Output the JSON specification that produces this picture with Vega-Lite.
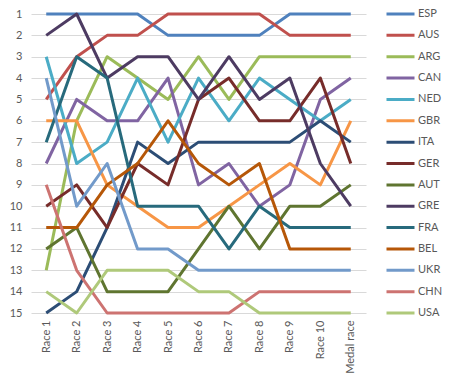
{
  "$schema": "https://vega.github.io/schema/vega-lite/v6.json",
  "autosize": {"type": "none"},
  "width": 335,
  "height": 299,
  "padding": {"left": 31, "top": 14, "right": 83, "bottom": 67},
  "background": "white",
  "config": {
    "view": {"stroke": null},
    "font": "Lato",
    "axis": {"labelFont": "Lato", "labelFontSize": 11, "labelColor": "#595959"},
    "legend": {"labelFont": "Lato", "labelFontSize": 11, "labelColor": "#595959"}
  },
  "data": {"values": [
    {"team":"ESP","race":"Race 1","rank":1},{"team":"ESP","race":"Race 2","rank":1},{"team":"ESP","race":"Race 3","rank":1},{"team":"ESP","race":"Race 4","rank":1},{"team":"ESP","race":"Race 5","rank":2},{"team":"ESP","race":"Race 6","rank":2},{"team":"ESP","race":"Race 7","rank":2},{"team":"ESP","race":"Race 8","rank":2},{"team":"ESP","race":"Race 9","rank":1},{"team":"ESP","race":"Race 10","rank":1},{"team":"ESP","race":"Medal race","rank":1},
    {"team":"AUS","race":"Race 1","rank":5},{"team":"AUS","race":"Race 2","rank":3},{"team":"AUS","race":"Race 3","rank":2},{"team":"AUS","race":"Race 4","rank":2},{"team":"AUS","race":"Race 5","rank":1},{"team":"AUS","race":"Race 6","rank":1},{"team":"AUS","race":"Race 7","rank":1},{"team":"AUS","race":"Race 8","rank":1},{"team":"AUS","race":"Race 9","rank":2},{"team":"AUS","race":"Race 10","rank":2},{"team":"AUS","race":"Medal race","rank":2},
    {"team":"ARG","race":"Race 1","rank":13},{"team":"ARG","race":"Race 2","rank":6},{"team":"ARG","race":"Race 3","rank":3},{"team":"ARG","race":"Race 4","rank":4},{"team":"ARG","race":"Race 5","rank":5},{"team":"ARG","race":"Race 6","rank":3},{"team":"ARG","race":"Race 7","rank":5},{"team":"ARG","race":"Race 8","rank":3},{"team":"ARG","race":"Race 9","rank":3},{"team":"ARG","race":"Race 10","rank":3},{"team":"ARG","race":"Medal race","rank":3},
    {"team":"CAN","race":"Race 1","rank":8},{"team":"CAN","race":"Race 2","rank":5},{"team":"CAN","race":"Race 3","rank":6},{"team":"CAN","race":"Race 4","rank":6},{"team":"CAN","race":"Race 5","rank":4},{"team":"CAN","race":"Race 6","rank":9},{"team":"CAN","race":"Race 7","rank":8},{"team":"CAN","race":"Race 8","rank":10},{"team":"CAN","race":"Race 9","rank":9},{"team":"CAN","race":"Race 10","rank":5},{"team":"CAN","race":"Medal race","rank":4},
    {"team":"NED","race":"Race 1","rank":3},{"team":"NED","race":"Race 2","rank":8},{"team":"NED","race":"Race 3","rank":7},{"team":"NED","race":"Race 4","rank":4},{"team":"NED","race":"Race 5","rank":7},{"team":"NED","race":"Race 6","rank":4},{"team":"NED","race":"Race 7","rank":6},{"team":"NED","race":"Race 8","rank":4},{"team":"NED","race":"Race 9","rank":5},{"team":"NED","race":"Race 10","rank":6},{"team":"NED","race":"Medal race","rank":5},
    {"team":"GBR","race":"Race 1","rank":6},{"team":"GBR","race":"Race 2","rank":6},{"team":"GBR","race":"Race 3","rank":9},{"team":"GBR","race":"Race 4","rank":10},{"team":"GBR","race":"Race 5","rank":11},{"team":"GBR","race":"Race 6","rank":11},{"team":"GBR","race":"Race 7","rank":10},{"team":"GBR","race":"Race 8","rank":9},{"team":"GBR","race":"Race 9","rank":8},{"team":"GBR","race":"Race 10","rank":9},{"team":"GBR","race":"Medal race","rank":6},
    {"team":"ITA","race":"Race 1","rank":15},{"team":"ITA","race":"Race 2","rank":14},{"team":"ITA","race":"Race 3","rank":11},{"team":"ITA","race":"Race 4","rank":7},{"team":"ITA","race":"Race 5","rank":8},{"team":"ITA","race":"Race 6","rank":7},{"team":"ITA","race":"Race 7","rank":7},{"team":"ITA","race":"Race 8","rank":7},{"team":"ITA","race":"Race 9","rank":7},{"team":"ITA","race":"Race 10","rank":6},{"team":"ITA","race":"Medal race","rank":7},
    {"team":"GER","race":"Race 1","rank":10},{"team":"GER","race":"Race 2","rank":9},{"team":"GER","race":"Race 3","rank":11},{"team":"GER","race":"Race 4","rank":8},{"team":"GER","race":"Race 5","rank":9},{"team":"GER","race":"Race 6","rank":5},{"team":"GER","race":"Race 7","rank":4},{"team":"GER","race":"Race 8","rank":6},{"team":"GER","race":"Race 9","rank":6},{"team":"GER","race":"Race 10","rank":4},{"team":"GER","race":"Medal race","rank":8},
    {"team":"AUT","race":"Race 1","rank":12},{"team":"AUT","race":"Race 2","rank":11},{"team":"AUT","race":"Race 3","rank":14},{"team":"AUT","race":"Race 4","rank":14},{"team":"AUT","race":"Race 5","rank":14},{"team":"AUT","race":"Race 6","rank":12},{"team":"AUT","race":"Race 7","rank":10},{"team":"AUT","race":"Race 8","rank":12},{"team":"AUT","race":"Race 9","rank":10},{"team":"AUT","race":"Race 10","rank":10},{"team":"AUT","race":"Medal race","rank":9},
    {"team":"GRE","race":"Race 1","rank":2},{"team":"GRE","race":"Race 2","rank":1},{"team":"GRE","race":"Race 3","rank":4},{"team":"GRE","race":"Race 4","rank":3},{"team":"GRE","race":"Race 5","rank":3},{"team":"GRE","race":"Race 6","rank":5},{"team":"GRE","race":"Race 7","rank":3},{"team":"GRE","race":"Race 8","rank":5},{"team":"GRE","race":"Race 9","rank":4},{"team":"GRE","race":"Race 10","rank":8},{"team":"GRE","race":"Medal race","rank":10},
    {"team":"FRA","race":"Race 1","rank":7},{"team":"FRA","race":"Race 2","rank":3},{"team":"FRA","race":"Race 3","rank":4},{"team":"FRA","race":"Race 4","rank":10},{"team":"FRA","race":"Race 5","rank":10},{"team":"FRA","race":"Race 6","rank":10},{"team":"FRA","race":"Race 7","rank":12},{"team":"FRA","race":"Race 8","rank":10},{"team":"FRA","race":"Race 9","rank":11},{"team":"FRA","race":"Race 10","rank":11},{"team":"FRA","race":"Medal race","rank":11},
    {"team":"BEL","race":"Race 1","rank":11},{"team":"BEL","race":"Race 2","rank":11},{"team":"BEL","race":"Race 3","rank":9},{"team":"BEL","race":"Race 4","rank":8},{"team":"BEL","race":"Race 5","rank":6},{"team":"BEL","race":"Race 6","rank":8},{"team":"BEL","race":"Race 7","rank":9},{"team":"BEL","race":"Race 8","rank":8},{"team":"BEL","race":"Race 9","rank":12},{"team":"BEL","race":"Race 10","rank":12},{"team":"BEL","race":"Medal race","rank":12},
    {"team":"UKR","race":"Race 1","rank":4},{"team":"UKR","race":"Race 2","rank":10},{"team":"UKR","race":"Race 3","rank":8},{"team":"UKR","race":"Race 4","rank":12},{"team":"UKR","race":"Race 5","rank":12},{"team":"UKR","race":"Race 6","rank":13},{"team":"UKR","race":"Race 7","rank":13},{"team":"UKR","race":"Race 8","rank":13},{"team":"UKR","race":"Race 9","rank":13},{"team":"UKR","race":"Race 10","rank":13},{"team":"UKR","race":"Medal race","rank":13},
    {"team":"CHN","race":"Race 1","rank":9},{"team":"CHN","race":"Race 2","rank":13},{"team":"CHN","race":"Race 3","rank":15},{"team":"CHN","race":"Race 4","rank":15},{"team":"CHN","race":"Race 5","rank":15},{"team":"CHN","race":"Race 6","rank":15},{"team":"CHN","race":"Race 7","rank":15},{"team":"CHN","race":"Race 8","rank":14},{"team":"CHN","race":"Race 9","rank":14},{"team":"CHN","race":"Race 10","rank":14},{"team":"CHN","race":"Medal race","rank":14},
    {"team":"USA","race":"Race 1","rank":14},{"team":"USA","race":"Race 2","rank":15},{"team":"USA","race":"Race 3","rank":13},{"team":"USA","race":"Race 4","rank":13},{"team":"USA","race":"Race 5","rank":13},{"team":"USA","race":"Race 6","rank":14},{"team":"USA","race":"Race 7","rank":14},{"team":"USA","race":"Race 8","rank":15},{"team":"USA","race":"Race 9","rank":15},{"team":"USA","race":"Race 10","rank":15},{"team":"USA","race":"Medal race","rank":15}
  ]},
  "mark": {"type": "line", "strokeWidth": 3, "strokeJoin": "round", "strokeCap": "butt"},
  "encoding": {
    "x": {
      "field": "race", "type": "ordinal",
      "sort": ["Race 1","Race 2","Race 3","Race 4","Race 5","Race 6","Race 7","Race 8","Race 9","Race 10","Medal race"],
      "scale": {"type": "point", "padding": 0.5},
      "axis": {"title": null, "labelAngle": -90, "labelPadding": 7, "ticks": false, "domain": false, "grid": false}
    },
    "y": {
      "field": "rank", "type": "quantitative",
      "scale": {"domain": [1, 15], "reverse": true, "zero": false, "nice": false},
      "axis": {"title": null, "values": [1,2,3,4,5,6,7,8,9,10,11,12,13,14,15], "ticks": false, "domain": false, "grid": true, "gridColor": "#D9D9D9", "gridWidth": 1, "labelPadding": 9}
    },
    "color": {
      "field": "team", "type": "nominal",
      "sort": ["ESP","AUS","ARG","CAN","NED","GBR","ITA","GER","AUT","GRE","FRA","BEL","UKR","CHN","USA"],
      "scale": {
        "domain": ["ESP","AUS","ARG","CAN","NED","GBR","ITA","GER","AUT","GRE","FRA","BEL","UKR","CHN","USA"],
        "range": ["#4F81BD","#C0504D","#9BBB59","#8064A2","#4BACC6","#F79646","#2C4D75","#772C2A","#5F7530","#4D3B62","#276A7C","#B65708","#729ACA","#CD7371","#AFC97A"]
      },
      "legend": {
        "title": null, "orient": "none", "legendX": 354, "legendY": -10.5, "padding": 0,
        "symbolType": "stroke", "symbolSize": 784, "symbolStrokeWidth": 3,
        "clipHeight": 21, "rowPadding": 0.36, "labelOffset": 2
      }
    }
  }
}
